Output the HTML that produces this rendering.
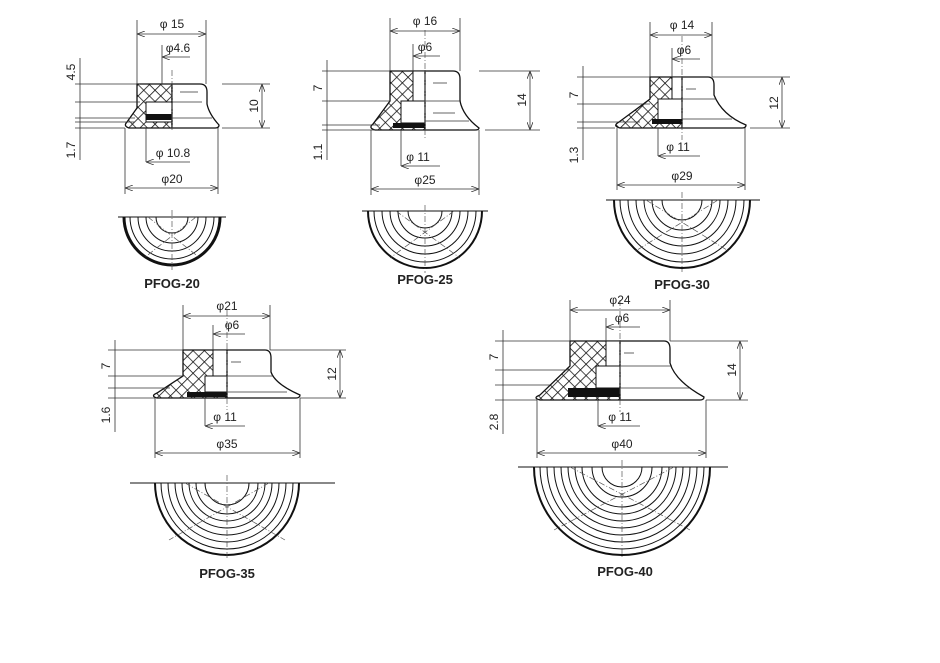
<!DOCTYPE html>
<html><head><meta charset="utf-8"><style>
html,body{margin:0;padding:0;background:#fff}
svg{display:block}
text{font-family:"Liberation Sans",sans-serif;fill:#222}
.d{stroke:#333;stroke-width:0.8;fill:none}
.o{stroke:#111;stroke-width:1.3}
.c{stroke:#555;stroke-width:0.7;stroke-dasharray:6 2 1 2;fill:none}
.lab{font-size:13px;font-weight:bold;text-anchor:middle}
.dim{font-size:12px;text-anchor:middle}
</style></head><body>
<svg width="940" height="663" viewBox="0 0 940 663" xmlns="http://www.w3.org/2000/svg">
<defs>
<pattern id="h" width="8" height="8" patternUnits="userSpaceOnUse" patternTransform="rotate(45)">
<rect width="8" height="8" fill="#fff"/><path d="M0 0H8M0 0V8" stroke="#111" stroke-width="1.6"/></pattern>
<marker id="a" markerWidth="8" markerHeight="6" refX="8" refY="3" orient="auto-start-reverse" markerUnits="userSpaceOnUse"><path d="M0 0L8 3L0 6" fill="none" stroke="#333" stroke-width="0.8"/></marker>
</defs>
<rect width="940" height="663" fill="#fff"/>

<!-- ===== PFOG-20 ===== -->
<g transform="translate(172,84)">
<path d="M-35 0H0V44H-43Q-49 42-45 38L-35 24Z" fill="url(#h)" class="o"/>
<rect x="-26" y="18" width="26" height="20" fill="#fff" stroke="#111"/>
<rect x="-26" y="30" width="26" height="6" fill="#111"/>
<path d="M0 0H28Q35 0 35 8V20Q37 30 47 41Q47 44 43 44H0Z" fill="#fff" class="o"/>
<path d="M8 8H26M0 18H30M0 34H40" class="d"/>
</g>
<line x1="172" y1="70" x2="172" y2="130" class="c"/>
<path d="M137 20V84M206 20V84" class="d"/><line x1="137" y1="34" x2="206" y2="34" class="d" marker-start="url(#a)" marker-end="url(#a)"/><text x="172" y="28" class="dim">φ 15</text>
<path d="M162 45V84" class="d"/><line x1="190" y1="57" x2="162" y2="57" class="d" marker-end="url(#a)"/><text x="178" y="52" class="dim">φ4.6</text>
<path d="M146 128V162M125 128V194M218 128V194" class="d"/><line x1="190" y1="162" x2="146" y2="162" class="d" marker-end="url(#a)"/><text x="173" y="157" class="dim">φ 10.8</text>
<line x1="125" y1="188" x2="218" y2="188" class="d" marker-start="url(#a)" marker-end="url(#a)"/><text x="172" y="183" class="dim">φ20</text>
<path d="M222 84H270M222 128H270M75 84H140M75 102H140M75 118H135M75 122H135M75 128H125M80 58V160" class="d"/>
<line x1="262" y1="84" x2="262" y2="128" class="d" marker-start="url(#a)" marker-end="url(#a)"/>
<text transform="translate(258,106) rotate(-90)" class="dim">10</text>
<text transform="translate(75,72) rotate(-90)" class="dim">4.5</text>
<text transform="translate(75,150) rotate(-90)" class="dim">1.7</text>

<!-- ===== PFOG-25 ===== -->
<g transform="translate(425,71)">
<path d="M-35 0H0V59H-50Q-57 57-52 53L-35 30Z" fill="url(#h)" class="o"/>
<rect x="-12" y="0" width="12" height="30" fill="#fff" stroke="#111"/>
<rect x="-24" y="30" width="24" height="22" fill="#fff" stroke="#111"/>
<rect x="-32" y="52" width="32" height="5" fill="#111"/>
<path d="M0 0H28Q35 0 35 8V30Q38 45 54 57Q54 59 50 59H0Z" fill="#fff" class="o"/>
<path d="M8 12H22M8 42H30M0 30H36M0 50H44" class="d"/>
</g>
<line x1="425" y1="30" x2="425" y2="140" class="c"/>
<path d="M390 18V71M460 18V71" class="d"/><line x1="390" y1="31" x2="460" y2="31" class="d" marker-start="url(#a)" marker-end="url(#a)"/><text x="425" y="25" class="dim">φ 16</text>
<path d="M413 44V71" class="d"/><line x1="440" y1="56" x2="413" y2="56" class="d" marker-end="url(#a)"/><text x="425" y="51" class="dim">φ6</text>
<path d="M401 130V166M371 130V195M479 130V195" class="d"/><line x1="440" y1="166" x2="401" y2="166" class="d" marker-end="url(#a)"/><text x="418" y="161" class="dim">φ 11</text>
<line x1="371" y1="189" x2="479" y2="189" class="d" marker-start="url(#a)" marker-end="url(#a)"/><text x="425" y="184" class="dim">φ25</text>
<path d="M479 71H540M485 130H540M322 71H390M322 101H390M322 125H380M322 130H375M327 60V160" class="d"/>
<line x1="530" y1="71" x2="530" y2="130" class="d" marker-start="url(#a)" marker-end="url(#a)"/>
<text transform="translate(526,100) rotate(-90)" class="dim">14</text>
<text transform="translate(322,88) rotate(-90)" class="dim">7</text>
<text transform="translate(322,152) rotate(-90)" class="dim">1.1</text>

<!-- ===== PFOG-30 ===== -->
<g transform="translate(682,77)">
<path d="M-32 0H0V51H-62Q-70 49-63 45L-32 22Z" fill="url(#h)" class="o"/>
<rect x="-10" y="0" width="10" height="22" fill="#fff" stroke="#111"/>
<rect x="-24" y="22" width="24" height="22" fill="#fff" stroke="#111"/>
<rect x="-30" y="42" width="30" height="5" fill="#111"/>
<path d="M0 0H26Q32 0 32 8V18Q40 38 64 48Q64 51 60 51H0Z" fill="#fff" class="o"/>
<path d="M4 12H14M0 22H34M0 42H50" class="d"/>
</g>
<line x1="682" y1="36" x2="682" y2="140" class="c"/>
<path d="M650 22V77M712 22V77" class="d"/><line x1="650" y1="35" x2="712" y2="35" class="d" marker-start="url(#a)" marker-end="url(#a)"/><text x="682" y="29" class="dim">φ 14</text>
<path d="M672 48V77" class="d"/><line x1="700" y1="59" x2="672" y2="59" class="d" marker-end="url(#a)"/><text x="684" y="54" class="dim">φ6</text>
<path d="M658 128V156M617 128V190M745 128V190" class="d"/><line x1="700" y1="156" x2="658" y2="156" class="d" marker-end="url(#a)"/><text x="678" y="151" class="dim">φ 11</text>
<line x1="617" y1="185" x2="745" y2="185" class="d" marker-start="url(#a)" marker-end="url(#a)"/><text x="682" y="180" class="dim">φ29</text>
<path d="M712 77H790M750 128H790M577 77H650M577 104H650M577 122H640M577 128H615M583 66V160" class="d"/>
<line x1="782" y1="77" x2="782" y2="128" class="d" marker-start="url(#a)" marker-end="url(#a)"/>
<text transform="translate(778,103) rotate(-90)" class="dim">12</text>
<text transform="translate(578,95) rotate(-90)" class="dim">7</text>
<text transform="translate(578,155) rotate(-90)" class="dim">1.3</text>

<!-- ===== PFOG-35 ===== -->
<g transform="translate(227,350)">
<path d="M-44 0H0V48H-70Q-77 46-70 43L-44 26Z" fill="url(#h)" class="o"/>
<rect x="-14" y="0" width="14" height="26" fill="#fff" stroke="#111"/>
<rect x="-22" y="26" width="22" height="16" fill="#fff" stroke="#111"/>
<rect x="-40" y="42" width="40" height="5" fill="#111"/>
<path d="M0 0H38Q44 0 44 8V22Q48 34 73 45Q73 48 69 48H0Z" fill="#fff" class="o"/>
<path d="M4 12H14M0 26H46M0 42H60" class="d"/>
</g>
<line x1="227" y1="310" x2="227" y2="410" class="c"/>
<path d="M183 305V350M270 305V350" class="d"/><line x1="183" y1="316" x2="270" y2="316" class="d" marker-start="url(#a)" marker-end="url(#a)"/><text x="227" y="310" class="dim">φ21</text>
<path d="M213 325V350" class="d"/><line x1="245" y1="334" x2="213" y2="334" class="d" marker-end="url(#a)"/><text x="232" y="329" class="dim">φ6</text>
<path d="M205 398V426M155 398V458M300 398V458" class="d"/><line x1="245" y1="426" x2="205" y2="426" class="d" marker-end="url(#a)"/><text x="225" y="421" class="dim">φ 11</text>
<line x1="155" y1="453" x2="300" y2="453" class="d" marker-start="url(#a)" marker-end="url(#a)"/><text x="227" y="448" class="dim">φ35</text>
<path d="M270 350H346M300 398H346M108 350H183M108 376H183M108 388H170M108 398H155M115 340V432" class="d"/>
<line x1="340" y1="350" x2="340" y2="398" class="d" marker-start="url(#a)" marker-end="url(#a)"/>
<text transform="translate(336,374) rotate(-90)" class="dim">12</text>
<text transform="translate(110,366) rotate(-90)" class="dim">7</text>
<text transform="translate(110,415) rotate(-90)" class="dim">1.6</text>

<!-- ===== PFOG-40 ===== -->
<g transform="translate(620,341)">
<path d="M-50 0H0V59H-80Q-88 57-80 54L-50 25Z" fill="url(#h)" class="o"/>
<rect x="-14" y="0" width="14" height="25" fill="#fff" stroke="#111"/>
<rect x="-24" y="25" width="24" height="22" fill="#fff" stroke="#111"/>
<rect x="-52" y="47" width="52" height="9" fill="#111"/>
<path d="M0 0H44Q50 0 50 8V22Q55 40 84 56Q84 59 80 59H0Z" fill="#fff" class="o"/>
<path d="M4 12H14M0 25H52M0 47H70" class="d"/>
</g>
<line x1="620" y1="300" x2="620" y2="412" class="c"/>
<path d="M570 300V341M670 300V341" class="d"/><line x1="570" y1="310" x2="670" y2="310" class="d" marker-start="url(#a)" marker-end="url(#a)"/><text x="620" y="304" class="dim">φ24</text>
<path d="M606 318V341" class="d"/><line x1="640" y1="327" x2="606" y2="327" class="d" marker-end="url(#a)"/><text x="622" y="322" class="dim">φ6</text>
<path d="M598 400V426M537 400V458M706 400V458" class="d"/><line x1="640" y1="426" x2="598" y2="426" class="d" marker-end="url(#a)"/><text x="620" y="421" class="dim">φ 11</text>
<line x1="537" y1="453" x2="706" y2="453" class="d" marker-start="url(#a)" marker-end="url(#a)"/><text x="622" y="448" class="dim">φ40</text>
<path d="M670 341H748M706 400H748M495 341H570M495 370H570M495 385H550M495 400H537M503 330V434" class="d"/>
<line x1="740" y1="341" x2="740" y2="400" class="d" marker-start="url(#a)" marker-end="url(#a)"/>
<text transform="translate(736,370) rotate(-90)" class="dim">14</text>
<text transform="translate(498,357) rotate(-90)" class="dim">7</text>
<text transform="translate(498,422) rotate(-90)" class="dim">2.8</text>

<!-- ===== Top views ===== -->
<g class="o" fill="none" stroke="#111">
<!-- 20 -->
<path d="M118 217H226" stroke-width="1"/>
<path d="M124 217A48 48 0 0 0 220 217" stroke-width="3"/>
<path d="M130 217A42 42 0 0 0 214 217M138 217A34 34 0 0 0 206 217M146 217A26 26 0 0 0 198 217M156 217A16 16 0 0 0 188 217" stroke-width="1"/>
<!-- 25 -->
<path d="M362 211H488" stroke-width="1"/>
<path d="M368 211A57 57 0 0 0 482 211" stroke-width="2"/>
<path d="M374 211A51 51 0 0 0 476 211M382 211A43 43 0 0 0 468 211M390 211A35 35 0 0 0 460 211M398 211A27 27 0 0 0 452 211M408 211A17 17 0 0 0 442 211" stroke-width="1"/>
<!-- 30 -->
<path d="M606 200H760" stroke-width="1"/>
<path d="M614 200A68 68 0 0 0 750 200" stroke-width="2"/>
<path d="M620 200A62 62 0 0 0 744 200M628 200A54 54 0 0 0 736 200M636 200A46 46 0 0 0 728 200M644 200A38 38 0 0 0 720 200M652 200A30 30 0 0 0 712 200M662 200A20 20 0 0 0 702 200" stroke-width="1"/>
<!-- 35 -->
<path d="M130 483H335" stroke-width="1"/>
<path d="M155 483A72 72 0 0 0 299 483" stroke-width="2"/>
<path d="M161 483A66 66 0 0 0 293 483M168 483A59 59 0 0 0 286 483M175 483A52 52 0 0 0 279 483M182 483A45 45 0 0 0 272 483M189 483A38 38 0 0 0 265 483M196 483A31 31 0 0 0 258 483M205 483A22 22 0 0 0 249 483" stroke-width="1"/>
<!-- 40 -->
<path d="M518 467H728" stroke-width="1"/>
<path d="M534 467A88 88 0 0 0 710 467" stroke-width="2"/>
<path d="M540 467A82 82 0 0 0 704 467M547 467A75 75 0 0 0 697 467M554 467A68 68 0 0 0 690 467M561 467A61 61 0 0 0 683 467M568 467A54 54 0 0 0 676 467M575 467A47 47 0 0 0 669 467M582 467A40 40 0 0 0 662 467M592 467A30 30 0 0 0 652 467M602 467A20 20 0 0 0 642 467" stroke-width="1"/>
</g>
<g class="c">
<path d="M172 210V270M148 217L200 258M196 217L144 258"/>
<path d="M425 205V273M396 211L460 258M454 211L390 258"/>
<path d="M682 192V272M646 200L730 252M718 200L634 252"/>
<path d="M227 475V560M185 483L285 540M269 483L169 540"/>
<path d="M622 460V558M570 467L690 530M674 467L554 530"/>
</g>
<text x="172" y="288" class="lab">PFOG-20</text>
<text x="425" y="284" class="lab">PFOG-25</text>
<text x="682" y="289" class="lab">PFOG-30</text>
<text x="227" y="578" class="lab">PFOG-35</text>
<text x="625" y="576" class="lab">PFOG-40</text>
</svg>
</body></html>
